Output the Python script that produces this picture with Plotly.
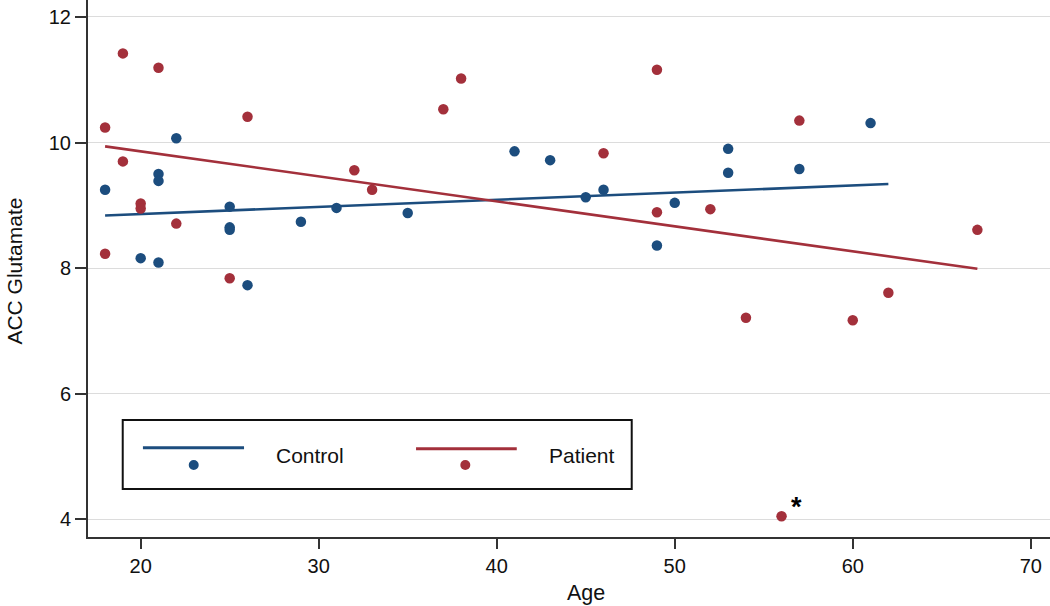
import plotly.graph_objects as go

# ---- data ----
control_age = [18, 20, 21, 21, 21, 22, 25, 25, 25, 26, 29, 31, 35, 41, 43, 45, 46, 49, 50, 53, 53, 57, 61]
control_glu = [9.25, 8.16, 9.50, 9.39, 8.09, 10.07, 8.98, 8.65, 8.61, 7.73, 8.74, 8.96, 8.88, 9.86, 9.72,
               9.13, 9.25, 8.36, 9.04, 9.90, 9.52, 9.58, 10.31]

patient_age = [18, 18, 19, 19, 20, 20, 21, 22, 25, 26, 32, 33, 37, 38, 46, 49, 49, 52, 54, 56, 57, 60, 62, 67]
patient_glu = [10.24, 8.23, 11.42, 9.70, 9.03, 8.95, 11.19, 8.71, 7.84, 10.41, 9.56, 9.25, 10.53, 11.02,
               9.83, 11.16, 8.89, 8.94, 7.21, 4.05, 10.35, 7.17, 7.61, 8.61]

control_fit_age = [18, 62]
control_fit_glu = [8.84, 9.34]
patient_fit_age = [18, 67]
patient_fit_glu = [9.94, 7.99]

outlier_age = [56.85]
outlier_glu = [4.2]
outlier_mark = ["*"]

x_ticks = [20, 30, 40, 50, 60, 70]
y_ticks = [4, 6, 8, 10, 12]

BLUE = "#1c4d7e"
RED = "#a3303b"
FONT = "Arial, Liberation Sans, sans-serif"

fig = go.Figure()
fig.add_trace(go.Scatter(x=control_fit_age, y=control_fit_glu, mode="lines",
                         line=dict(color=BLUE, width=2.6), showlegend=False))
fig.add_trace(go.Scatter(x=patient_fit_age, y=patient_fit_glu, mode="lines",
                         line=dict(color=RED, width=2.6), showlegend=False))
fig.add_trace(go.Scatter(x=control_age, y=control_glu, mode="markers",
                         marker=dict(color=BLUE, size=10.5), showlegend=False))
fig.add_trace(go.Scatter(x=patient_age, y=patient_glu, mode="markers",
                         marker=dict(color=RED, size=10.5), showlegend=False))

fig.add_annotation(x=outlier_age[0], y=outlier_glu[0], text="<b>" + outlier_mark[0] + "</b>", showarrow=False,
                   font=dict(family=FONT, size=27, color="#000"))

# ---- hand-drawn legend box (line above marker, as in the reference) ----
L = dict(xref="paper", yref="paper")
fig.add_shape(type="rect", x0=0.0361, x1=0.5652, y0=0.0894, y1=0.2179,
              line=dict(color="#111", width=2), fillcolor="white", layer="above", **L)
fig.add_shape(type="line", x0=0.0571, x1=0.1622, y0=0.1663, y1=0.1663,
              line=dict(color=BLUE, width=3), layer="above", **L)
fig.add_shape(type="line", x0=0.3410, x1=0.4457, y0=0.1645, y1=0.1645,
              line=dict(color=RED, width=3), layer="above", **L)
fig.add_shape(type="circle", xsizemode="pixel", ysizemode="pixel",
              xanchor=0.1099, yanchor=0.1341, x0=-5, x1=5, y0=-5, y1=5,
              line=dict(color=BLUE, width=0), fillcolor=BLUE, layer="above", **L)
fig.add_shape(type="circle", xsizemode="pixel", ysizemode="pixel",
              xanchor=0.3922, yanchor=0.1341, x0=-5, x1=5, y0=-5, y1=5,
              line=dict(color=RED, width=0), fillcolor=RED, layer="above", **L)
fig.add_annotation(x=0.1933, y=0.1527, text="Control", showarrow=False, xanchor="left", yanchor="middle",
                   font=dict(family=FONT, size=21, color="#111"), **L)
fig.add_annotation(x=0.4775, y=0.1527, text="Patient", showarrow=False, xanchor="left", yanchor="middle",
                   font=dict(family=FONT, size=21, color="#111"), **L)

# ---- axis titles ----
fig.add_annotation(x=0.518, y=-0.105, text="Age", showarrow=False, xanchor="center", yanchor="middle",
                   font=dict(family=FONT, size=21.5, color="#111"), **L)
fig.add_annotation(x=-0.0765, y=0.495, text="ACC Glutamate", showarrow=False, textangle=-90,
                   xanchor="center", yanchor="middle", font=dict(family=FONT, size=21, color="#111"), **L)

fig.update_layout(
    width=1050, height=606,
    margin=dict(l=88, r=0, t=0, b=69),
    paper_bgcolor="white", plot_bgcolor="white",
    font=dict(family=FONT, color="#111"),
    showlegend=False,
)
fig.update_xaxes(range=[17.04, 71.08], tickvals=x_ticks, showgrid=False, zeroline=False,
                 showline=True, linecolor="#333", linewidth=2,
                 ticks="outside", ticklen=10, tickwidth=2, tickcolor="#333",
                 tickfont=dict(family=FONT, size=20, color="#111"))
fig.update_yaxes(range=[3.72, 12.27], tickvals=y_ticks, showgrid=True, gridcolor="#dcdcdc", gridwidth=1.3,
                 zeroline=False, showline=True, linecolor="#333", linewidth=2,
                 ticks="outside", ticklen=11, tickwidth=2, tickcolor="#333",
                 tickfont=dict(family=FONT, size=20, color="#111"))

fig.write_html("out.html", config={"displayModeBar": False},
               post_script="document.body.style.margin='0';document.body.style.overflow='hidden';")
